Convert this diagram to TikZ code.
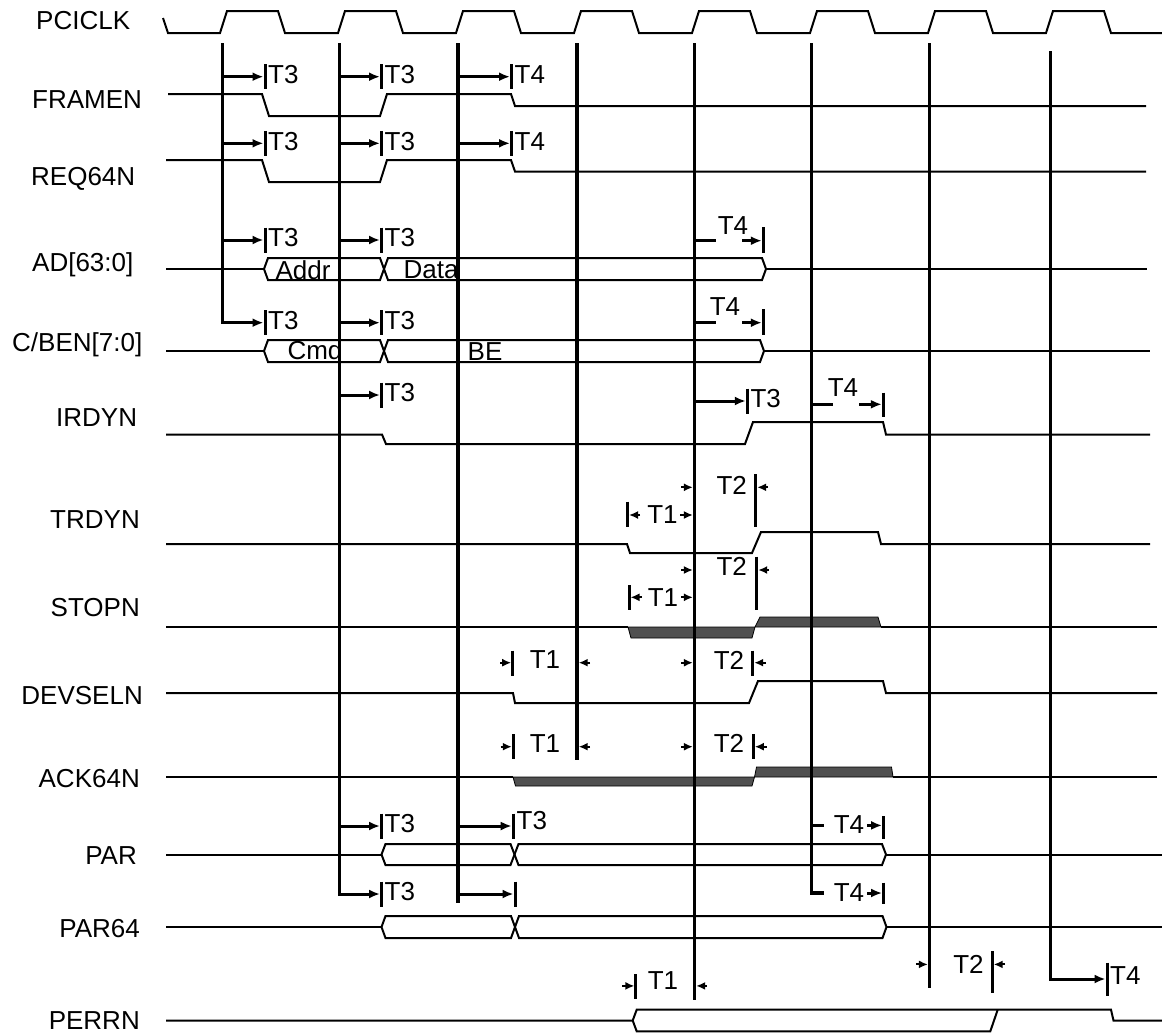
\documentclass[tikz,border=0pt]{standalone}
\usepackage{fontspec}
\setmainfont{Liberation Sans}
\usetikzlibrary{arrows.meta}
\definecolor{dg}{RGB}{80,80,80}
\newcommand\tmark[4]{%
  \draw[tarr] (#1,#3) -- ({#2-1.5},#3);
  \draw[tk] (#2,{#3-12.5}) -- (#2,{#3+12.5});
  \node[tl,anchor=west] at ({#2+3},{#3-2}) {#4};}
\newcommand\busx[4]{%
  \draw[sig] (#1,#3) -- ({#1+4},{#3-#4}) -- ({#2-4},{#3-#4}) -- (#2,#3) -- ({#2-4},{#3+#4}) -- ({#1+4},{#3+#4}) -- cycle;}
\begin{document}
\begin{tikzpicture}[x=1pt,y=-1pt,
  sig/.style={line width=2pt, line join=miter},
  vline/.style={line width=3.3pt, line join=miter},
  tarr/.style={line width=3pt, line join=miter, -{Latex[length=11pt,width=9pt]}},
  tk/.style={line width=3pt},
  sarr/.style={line width=2pt, -{Latex[length=9pt,width=8pt]}},
  lbl/.style={font=\fontsize{26}{30}\selectfont, inner sep=0pt, anchor=base west},
  lble/.style={font=\fontsize{26}{30}\selectfont, inner sep=0pt, anchor=base east},
  tl/.style={font=\fontsize{26}{30}\selectfont, inner sep=0pt},
  fillg/.style={fill=dg, draw=black, line width=0.8pt}]
\useasboundingbox (0,0) rectangle (1162,1034);

% labels
\node[lbl] (lclk) at (36,29.8) {PCICLK};
\node[lbl] (lframe) at (32,108.3) {FRAMEN};
\node[lbl] (lreq) at (31,185.3) {REQ64N};
\node[lbl] (lad) at (32,271.3) {AD[63:0]};
\node[lbl] (lcbe) at (12,351) {C/BEN[7:0]};
\node[lbl] (lirdy) at (56,426) {IRDYN};
\node[lble] (ltrdy) at (140,528) {TRDYN};
\node[lble] (lstop) at (140,616) {STOPN};
\node[lble] (ldevsel) at (143,704) {DEVSELN};
\node[lble] (lack) at (140,787) {ACK64N};
\node[lble] (lpar) at (137,864) {PAR};
\node[lble] (lpar64) at (140,937) {PAR64};
\node[lble] (lperr) at (140,1029) {PERRN};

% clock
\draw[sig] (163,18) -- (168,33)
  foreach \k in {0,...,7} { -- ({220+118*\k},33) -- ({227+118*\k},11) -- ({278+118*\k},11) -- ({285+118*\k},33) }
  -- (1162,33);

% gray fills (STOPN, ACK64N)
\draw[fillg] (628,627) -- (631,638) -- (752,638) -- (755,627) -- cycle;
\draw[fillg] (755,627) -- (760,617) -- (878,617) -- (881,627) -- cycle;
\draw[fillg] (513,777) -- (515.5,786) -- (752,786) -- (754.5,777) -- cycle;
\draw[fillg] (754.5,777) -- (756.5,767) -- (891.5,767) -- (893,777) -- cycle;

% signals
\draw[sig] (168,94) -- (262,94) -- (269,116) -- (380,116) -- (387,94) -- (511,94) -- (515,106) -- (1146,106);
\draw[sig] (166,160) -- (262,160) -- (269,182) -- (380,182) -- (387,160) -- (511,160) -- (515,171.5) -- (1146,171.5);
\draw[sig] (166,269) -- (264,269);
\busx{264}{384}{269}{11}
\busx{384}{766}{269}{11}
\draw[sig] (766,269) -- (1147,269);
\draw[sig] (166,351) -- (264,351);
\busx{264}{384}{351}{11}
\busx{384}{764}{351}{11}
\draw[sig] (764,351) -- (1150,351);
\draw[sig] (166,434.5) -- (382,434.5) -- (386,444) -- (745,444) -- (753,422) -- (883,422) -- (886,434.5) -- (1150,434.5);
\draw[sig] (166,544) -- (627,544) -- (630,553) -- (752,553) -- (761,532) -- (878,532) -- (881,544) -- (1150,544);
\draw[sig] (166,627) -- (628,627);
\draw[sig] (881,627) -- (1157,627);
\draw[sig] (166,693) -- (513,693) -- (515,703) -- (749,703) -- (758,681) -- (883,681) -- (886,693) -- (1157,693);
\draw[sig] (166,777) -- (513,777);
\draw[sig] (893,777) -- (1157,777);
\draw[sig] (166,854.5) -- (381.5,854.5);
\busx{381.5}{514.5}{854.5}{10.5}
\busx{514.5}{886}{854.5}{10.5}
\draw[sig] (886,854.5) -- (1162,854.5);
\draw[sig] (166,927) -- (381.5,927);
\busx{381.5}{515}{927}{11}
\busx{515}{886.5}{927}{11}
\draw[sig] (886.5,927) -- (1162,927);
\draw[sig] (166,1020.5) -- (632.7,1020.5) -- (636.7,1009.7) -- (1111,1009.7) -- (1113.5,1020.5) -- (1162,1020.5);
\draw[sig] (632.7,1020.5) -- (636.7,1031.3) -- (990.3,1031.3) -- (997.7,1009.7);

% bus texts
\node[tl] (taddr) at (303,270) {Addr};
\node[tl] (tdata) at (431,270) {Data};
\node[tl] (tcmd) at (315,350) {Cmd};
\node[tl] (tbe) at (485,352) {BE};

% vertical clock-edge lines
\draw[tarr] (222,43) -- (222,322.7) -- (263.5,322.7);
\draw[tk] (265,310.2) -- (265,335.2);
\node[tl,anchor=west] at (268,320.7) {T3};
\draw[tarr] (339.5,43) -- (339.5,894) -- (380,894);
\draw[tk] (381.5,881.5) -- (381.5,906.5);
\node[tl,anchor=west] at (384.5,892) {T3};
\draw[vline] (458,43) -- (458,903);
\draw[vline] (577,43) -- (577,760);
\draw[vline] (694.5,43) -- (694.5,1000);
\draw[vline] (811.5,43) -- (811.5,893) -- (824,893);
\draw[vline] (929.5,43) -- (929.5,988);
\draw[tarr] (1050,51) -- (1050,979) -- (1105.5,979);
\draw[tk] (1107,962.7) -- (1107,995.8);
\node[tl,anchor=west] at (1110,976) {T4};

% T3/T4 marks from edges
\tmark{222}{265}{76.7}{T3}
\tmark{339.5}{381.5}{76.7}{T3}
\tmark{458}{511.5}{76.7}{T4}
\tmark{222}{265}{143.3}{T3}
\tmark{339.5}{381.5}{143.3}{T3}
\tmark{458}{511.5}{143.3}{T4}
\tmark{222}{265}{240}{T3}
\tmark{339.5}{381.5}{240}{T3}
\tmark{339.5}{381.5}{322.7}{T3}
\tmark{339.5}{381.5}{395}{T3}
\tmark{694.5}{747.3}{401}{T3}
\tmark{339.5}{381.5}{826}{T3}
\draw[tarr] (458,826) -- (511.7,826);
\draw[tk] (513.2,813.5) -- (513.2,838.5);
\node[tl,anchor=west] at (516.5,820.6) {T3};
\draw[tarr] (458,894) -- (513.5,894);
\draw[tk] (515,881.5) -- (515,906.5);

% T4 with dash
\draw[tk] (694.5,240.7) -- (716,240.7);
\node[tl] at (733,226) {T4};
\draw[tarr] (742,240.7) -- (761.8,240.7);
\draw[tk] (763.3,227) -- (763.3,252.7);
\draw[tk] (694.5,322.7) -- (716,322.7);
\node[tl] at (725,306.7) {T4};
\draw[tarr] (742,322.7) -- (761.8,322.7);
\draw[tk] (763.3,309) -- (763.3,335);
\draw[tk] (811.5,404.3) -- (832.7,404.3);
\node[tl] at (843,388) {T4};
\draw[tarr] (859.3,404.3) -- (881.8,404.3);
\draw[tk] (883.3,392.7) -- (883.3,417.3);
\draw[tk] (811.5,825.4) -- (824.3,825.4);
\node[tl] at (849,825) {T4};
\draw[tarr] (867,825.4) -- (882.1,825.4);
\draw[tk] (883.6,816) -- (883.6,839);
\node[tl] at (849,893) {T4};
\draw[tarr] (867,893) -- (882.1,893);
\draw[tk] (883.6,882.6) -- (883.6,904.2);

% TRDYN T1/T2
\draw[tk] (627.3,501.7) -- (627.3,526.7);
\draw[sarr] (640,515) -- (629,515);
\node[tl] at (662.5,515) {T1};
\draw[sarr] (680,515) -- (692.9,515);
\draw[sarr] (681,487.3) -- (692.9,487.3);
\node[tl] at (731.7,485) {T2};
\draw[tk] (755.7,474) -- (755.7,526.7);
\draw[sarr] (768,487.3) -- (757.2,487.3);
% STOPN T1/T2
\draw[tk] (629,585) -- (629,610);
\draw[sarr] (642,597.3) -- (630.5,597.3);
\node[tl] at (663,597.3) {T1};
\draw[sarr] (681,597.3) -- (692.9,597.3);
\draw[sarr] (681,570) -- (692.9,570);
\node[tl] at (731.7,566) {T2};
\draw[tk] (756.7,556.7) -- (756.7,610);
\draw[sarr] (769,570) -- (758.2,570);
% DEVSELN T1/T2
\draw[sarr] (500,662.7) -- (511.2,662.7);
\draw[tk] (512.7,650.7) -- (512.7,676);
\node[tl] at (545,660) {T1};
\draw[sarr] (590,662.7) -- (578.7,662.7);
\draw[sarr] (681,662.7) -- (692.9,662.7);
\node[tl] at (729,660) {T2};
\draw[tk] (752.7,650.7) -- (752.7,676);
\draw[sarr] (766,662.7) -- (754.2,662.7);
% ACK64N T1/T2
\draw[sarr] (500.5,746.7) -- (511.8,746.7);
\draw[tk] (513.3,734) -- (513.3,759.3);
\node[tl] at (545,743.3) {T1};
\draw[sarr] (590,746.7) -- (578.7,746.7);
\draw[sarr] (681,746.7) -- (692.9,746.7);
\node[tl] at (729,743.3) {T2};
\draw[tk] (753.3,734) -- (753.3,759.3);
\draw[sarr] (766.5,746.7) -- (754.8,746.7);
% PERRN T1/T2
\draw[sarr] (622,985.9) -- (634.4,985.9);
\draw[tk] (635.9,974.3) -- (635.9,999);
\node[tl] at (663,981) {T1};
\draw[sarr] (707,985.9) -- (696.2,985.9);
\draw[sarr] (916,964.4) -- (927.9,964.4);
\node[tl] at (968.5,964.4) {T2};
\draw[tk] (992.2,951.2) -- (992.2,992.5);
\draw[sarr] (1005,964.4) -- (993.7,964.4);
\end{tikzpicture}
\end{document}
